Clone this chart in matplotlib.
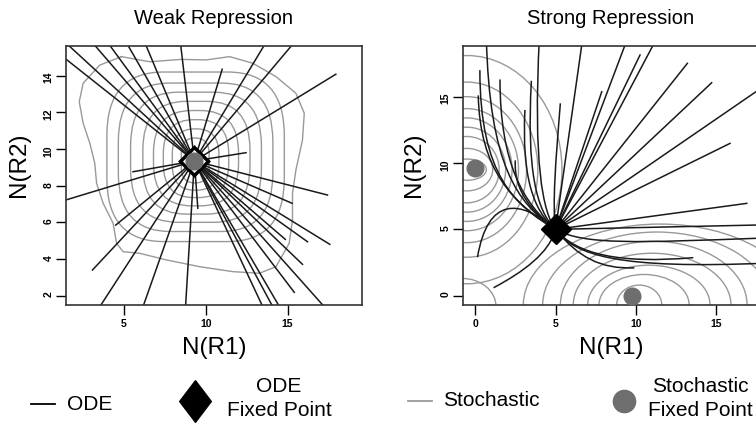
import matplotlib
matplotlib.use("Agg")
import matplotlib.pyplot as plt
from matplotlib.lines import Line2D
from matplotlib.patches import FancyBboxPatch, Ellipse, PathPatch
from matplotlib.path import Path

plt.rcParams['font.family'] = ['Liberation Sans', 'DejaVu Sans']

# ---- weak repression: straight ODE trajectories ending at the fixed point
weak_fp = (9.3, 9.35)
weak_start_x = [1.0, 1.55, 3.17, 4.09, 5.21, 6.32, 8.46, 11.0, 13.6, 15.3, 17.95, 12.46,
                1.0, 5.55, 4.49, 3.07, 3.52, 6.16, 8.76, 9.51, 17.44, 15.27, 17.58,
                16.22, 14.86, 15.91, 15.41, 17.24, 14.5, 14.09, 13.48]
weak_start_y = [15.22, 15.7, 15.7, 15.7, 15.7, 15.7, 15.7, 14.35, 15.7, 15.7, 14.08, 9.8,
                7.1, 8.76, 5.85, 3.4, 1.4, 1.4, 1.4, 6.77, 7.49, 7.04, 4.8,
                4.94, 5.07, 3.71, 2.18, 1.4, 1.4, 1.4, 1.4]

# stochastic contours (weak): nested rounded boxes, inner -> outer
weak_cont_left = [8.5, 7.95, 7.4, 6.8, 6.15, 5.4, 4.65, 3.95]
weak_cont_right = [10.2, 10.8, 11.4, 12.0, 12.7, 13.4, 14.1, 14.8]
weak_cont_bottom = [8.15, 7.75, 7.35, 6.9, 6.45, 6.0, 5.5, 4.95]
weak_cont_top = [10.6, 11.1, 11.6, 12.1, 12.6, 13.1, 13.6, 14.2]
# outermost (wavy) contour
weak_outer_x = [4.84, 3.52, 2.5, 2.26, 2.5, 2.91, 3.21, 3.32, 3.72, 4.33, 4.54, 4.94, 5.96,
                7.59, 9.62, 11.65, 13.27, 14.29, 15.1, 15.3, 15.3, 15.51, 15.91, 16.02,
                15.51, 14.29, 12.87, 11.45, 10.02, 8.5, 6.57, 4.84]
weak_outer_y = [15.04, 14.58, 13.59, 12.58, 11.4, 10.31, 9.22, 8.13, 7.04, 5.95, 4.86, 4.4, 4.31,
                3.95, 3.58, 3.31, 3.22, 3.58, 4.86, 6.13, 7.58, 8.86, 10.49, 11.95,
                13.04, 13.95, 14.68, 15.04, 14.86, 14.89, 14.76, 15.04]

# ---- strong repression
strong_fp = (5.0, 5.0)
stoch_fp_x = [0.0, 9.75]
stoch_fp_y = [9.6, 0.0]
strong_line_x = [6.63, 7.87, 9.32, 10.25, 11.07, 13.19, 14.7, 18.0, 15.84, 16.88, 18.0]
strong_line_y = [18.9, 15.37, 18.9, 18.14, 18.9, 17.51, 16.05, 15.83, 11.48, 6.96, 5.34]
# curved trajectories: start, control 1, control 2 (all end at the fixed point)
strong_curves = [
    [(0.3, 17.0), (0.3, 9.0), (2.5, 6.8)],
    [(0.7, 19.5), (0.9, 9.8), (2.6, 7.0)],
    [(1.55, 16.3), (1.55, 10.0), (3.0, 6.9)],
    [(0.2, 15.1), (0.3, 9.5), (2.3, 7.0)],
    [(3.5, 16.2), (3.2, 9.5), (3.8, 6.4)],
    [(4.0, 19.5), (3.6, 10.0), (4.2, 6.3)],
    [(3.1, 14.0), (2.9, 9.0), (3.6, 6.4)],
    [(2.5, 10.2), (2.4, 7.8), (3.6, 6.3)],
    [(5.3, 14.5), (5.0, 10.0), (4.8, 7.0)],
    [(0.15, 2.9), (0.8, 7.5), (2.8, 7.3)],
    [(1.15, 0.6), (3.0, 1.8), (4.6, 3.2)],
    [(18.0, 2.45), (9.0, 2.0), (6.2, 3.0)],
    [(13.56, 2.87), (9.0, 2.4), (6.3, 3.1)],
    [(9.9, 2.1), (7.8, 2.0), (6.4, 2.9)],
    [(18.0, 4.35), (10.0, 4.0), (6.8, 3.8)],
]
# stochastic contours (strong): family around (0, 9.6)
left_cx, left_cy = -0.5, 9.5
left_half_w = [5.9, 4.4, 3.7, 3.2, 2.8, 2.4, 2.0, 1.6, 1.2]
left_half_h = [8.6, 6.6, 5.5, 4.6, 3.9, 3.2, 2.5, 1.6, 0.8]
# family around (9.8, 0), inner -> outer
bottom_cy = -0.7
bottom_cx = [10.2, 10.5, 10.8, 11.0, 11.1, 11.3, 11.5]
bottom_half_w = [1.4, 2.8, 3.8, 4.9, 5.8, 7.1, 8.5]
bottom_half_h = [1.5, 2.3, 3.0, 3.9, 4.8, 5.5, 6.1]
# small contour at the origin corner
corner_c, corner_r = (-0.8, -0.8), 2.1

ODE_C = '#1a1a1a'
CONT_C = '#999999'
FP_C = '#6e6e6e'
W, H = 756, 428


def style_axes(ax, xt, yt):
    ax.set_xticks(xt)
    ax.set_yticks(yt)
    ax.tick_params(direction='out', length=7, width=1, pad=3, labelsize=7.5)
    ax.tick_params(axis='y', labelrotation=90, pad=2)
    for lab in ax.get_xticklabels() + ax.get_yticklabels():
        lab.set_fontweight('bold')
    for s in ax.spines.values():
        s.set_linewidth(1.2)
        s.set_color('#333333')


fig = plt.figure(figsize=(7.56, 4.28), dpi=100)
ax1 = fig.add_axes([66 / W, 1 - 305 / H, 296 / W, 259 / H])
ax2 = fig.add_axes([463.3 / W, 1 - 305 / H, 296 / W, 259 / H])

# ---------- weak panel
ax1.set_xlim(1.45, 19.55)
ax1.set_ylim(1.49, 15.62)
for i in range(len(weak_cont_left)):
    w = weak_cont_right[i] - weak_cont_left[i]
    h = weak_cont_top[i] - weak_cont_bottom[i]
    r = min(w, h) * (0.5 - 0.018 * i)  # inner ones round, outer ones squarer
    ax1.add_patch(FancyBboxPatch((weak_cont_left[i], weak_cont_bottom[i]), w, h,
                                 boxstyle=f"round,pad=0,rounding_size={r}",
                                 fc='none', ec=CONT_C, lw=1.0, zorder=1))
ax1.plot(weak_outer_x, weak_outer_y, color=CONT_C, lw=1.0, zorder=1)
for x0, y0 in zip(weak_start_x, weak_start_y):
    ax1.plot([x0, weak_fp[0]], [y0, weak_fp[1]], color=ODE_C, lw=1.1, zorder=2)
ax1.plot(*weak_fp, marker='D', ms=14, mfc='white', mec='black', mew=2.5, zorder=4)
ax1.plot(*weak_fp, marker='o', ms=12, mfc=FP_C, mec=FP_C, zorder=5)
style_axes(ax1, [5, 10, 15], [2, 4, 6, 8, 10, 12, 14])

# ---------- strong panel
ax2.set_xlim(-0.73, 17.66)
ax2.set_ylim(-0.70, 18.82)
for a, b in zip(left_half_w, left_half_h):
    ax2.add_patch(Ellipse((left_cx, left_cy), 2 * a, 2 * b, fc='none', ec=CONT_C, lw=1.0, zorder=1))
for cx, a, b in zip(bottom_cx, bottom_half_w, bottom_half_h):
    ax2.add_patch(Ellipse((cx, bottom_cy), 2 * a, 2 * b, fc='none', ec=CONT_C, lw=1.0, zorder=1))
ax2.add_patch(Ellipse(corner_c, 2 * corner_r, 2 * corner_r, fc='none', ec=CONT_C, lw=1.0, zorder=1))
for x0, y0 in zip(strong_line_x, strong_line_y):
    ax2.plot([x0, strong_fp[0]], [y0, strong_fp[1]], color=ODE_C, lw=1.1, zorder=2)
codes = [Path.MOVETO, Path.CURVE4, Path.CURVE4, Path.CURVE4]
for p0, c1, c2 in strong_curves:
    ax2.add_patch(PathPatch(Path([p0, c1, c2, strong_fp], codes), fc='none',
                            ec=ODE_C, lw=1.1, zorder=2))
ax2.plot(*strong_fp, marker='D', ms=15, mfc='black', mec='black', zorder=4)
ax2.plot(stoch_fp_x, stoch_fp_y, 'o', ms=12, mfc=FP_C, mec=FP_C, ls='none', zorder=5, clip_on=False)
style_axes(ax2, [0, 5, 10, 15], [0, 5, 10, 15])

# ---------- titles / labels
fig.text(213 / W, 1 - 18 / H, 'Weak Repression', ha='center', va='center', fontsize=14.5)
fig.text(611 / W, 1 - 18 / H, 'Strong Repression', ha='center', va='center', fontsize=14.5)
fig.text(214 / W, 1 - 348 / H, 'N(R1)', ha='center', va='center', fontsize=17.5)
fig.text(611 / W, 1 - 348 / H, 'N(R1)', ha='center', va='center', fontsize=17.5)
fig.text(19 / W, 1 - 165 / H, 'N(R2)', ha='center', va='center', rotation=90, fontsize=17.5)
fig.text(414 / W, 1 - 165 / H, 'N(R2)', ha='center', va='center', rotation=90, fontsize=17.5)

# ---------- legend
fs = 15
fig.add_artist(Line2D([31 / W, 55 / W], [1 - 404 / H] * 2, color='black', lw=1.3))
fig.text(67 / W, 1 - 404 / H, 'ODE', ha='left', va='center', fontsize=fs)
tall_diamond = Path([(0, 0.5), (0.38, 0), (0, -0.5), (-0.38, 0), (0, 0.5)])
fig.add_artist(Line2D([195 / W], [1 - 401 / H], marker=tall_diamond, ms=30,
                      mfc='black', mec='black', ls='none'))
fig.text(279 / W, 1 - 387 / H, 'ODE', ha='center', va='center', fontsize=fs)
fig.text(279 / W, 1 - 411 / H, 'Fixed Point', ha='center', va='center', fontsize=fs)
fig.add_artist(Line2D([408 / W, 432 / W], [1 - 401 / H] * 2, color=CONT_C, lw=1.3))
fig.text(443 / W, 1 - 401 / H, 'Stochastic', ha='left', va='center', fontsize=fs)
fig.add_artist(Line2D([624 / W], [1 - 401 / H], marker='o', ms=16,
                      mfc=FP_C, mec=FP_C, ls='none'))
fig.text(700 / W, 1 - 387 / H, 'Stochastic', ha='center', va='center', fontsize=fs)
fig.text(700 / W, 1 - 411 / H, 'Fixed Point', ha='center', va='center', fontsize=fs)

fig.savefig('out.png', dpi=100)
